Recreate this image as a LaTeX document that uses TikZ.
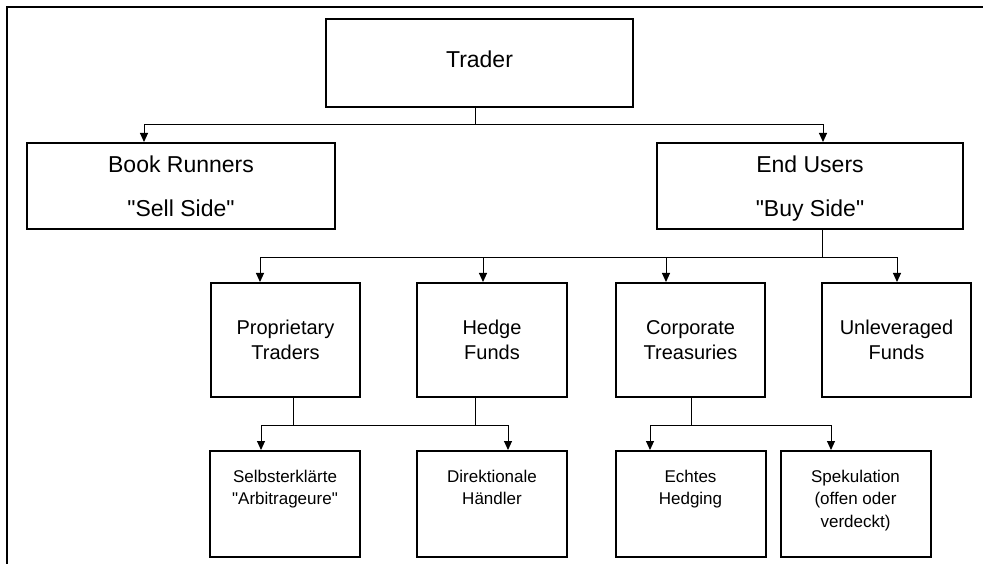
\documentclass[tikz,border=0pt]{standalone}
\usepackage{fontspec}
\setmainfont{Liberation Sans}[Ligatures=TeXOff]
\usetikzlibrary{arrows.meta}
\newcommand\btext[1]{\parbox[c][106pt][t]{150pt}{\centering\vspace*{19pt}#1}}
\begin{document}
\begin{tikzpicture}[x=1pt,y=-1pt,
  box/.style={draw, line width=2pt, inner sep=0pt, align=center},
  boxB/.style={draw, line width=2pt, inner sep=0pt, minimum width=150pt, minimum height=106pt, font=\fontsize{17}{22.5}\selectfont},
  fA/.style={font=\fontsize{23}{44}\selectfont},
  fB/.style={font=\fontsize{20}{25.5}\selectfont},
  midbox/.style={box, fB, minimum width=149pt, minimum height=114pt, text depth=0pt},
  conn/.style={line width=1pt},
  arr/.style={line width=1pt, -{Triangle[length=9pt,width=8pt]}}
]
\useasboundingbox (0,0) rectangle (983,564);
\draw[line width=2pt] (983,7) -- (7,7) -- (7,564);

% level 0
\node[box, fA, minimum width=307pt, minimum height=88pt, text depth=7pt] (trader) at (479.5,63) {Trader};
% level 1
\node[box, fA, minimum width=308pt, minimum height=86pt, text depth=0pt] (book) at (181,186) {Book Runners\\"Sell Side"};
\node[box, fA, minimum width=306pt, minimum height=86pt, text depth=0pt] (end) at (810,186) {End Users\\"Buy Side"};
% level 2
\node[midbox] (prop) at (285.5,340) {Proprietary\\Traders};
\node[midbox, minimum width=150pt] (hedge) at (492,340) {Hedge\\Funds};
\node[midbox] (corp) at (690.5,340) {Corporate\\Treasuries};
\node[midbox] (unlev) at (896.5,340) {Unleveraged\\Funds};
% level 3
\node[boxB] (selb) at (285,504) {\btext{Selbsterklärte\\"Arbitrageure"}};
\node[boxB] (dir) at (492,504) {\btext{Direktionale\\Händler}};
\node[boxB, minimum width=149pt] (echt) at (690.5,504) {\btext{Echtes\\Hedging}};
\node[boxB, minimum width=149pt] (spek) at (855.5,504) {\btext{Spekulation\\(offen oder\\verdeckt)}};

% connectors
\draw[conn] ([xshift=-4.5pt]trader.south) -- ++(0,17) coordinate (t1);
\draw[arr] (t1) -| ([xshift=-37pt]book.north);
\draw[arr] (t1) -| ([xshift=13pt]end.north);

\draw[conn] ([xshift=12.5pt]end.south) -- ++(0,28) coordinate (e1);
\draw[arr] (e1) -| ([xshift=-25.5pt]prop.north);
\draw[arr] (e1) -| ([xshift=-9pt]hedge.north);
\draw[arr] (e1) -| ([xshift=-24.5pt]corp.north);
\draw[arr] (e1) -| ([xshift=0.5pt]unlev.north);

\draw[conn] ([xshift=7.5pt]prop.south) -- ++(0,27) coordinate (p1);
\draw[conn] ([xshift=-17pt]hedge.south) -- ++(0,27) coordinate (h1);
\draw[conn] (p1) -- (h1);
\draw[arr] (p1) -| ([xshift=-24pt]selb.north);
\draw[arr] (h1) -| ([xshift=16pt]dir.north);

\draw[conn] ([xshift=0.5pt]corp.south) -- ++(0,27) coordinate (c1);
\draw[arr] (c1) -| ([xshift=-40.5pt]echt.north);
\draw[arr] (c1) -| ([xshift=-24.5pt]spek.north);
\end{tikzpicture}
\end{document}
